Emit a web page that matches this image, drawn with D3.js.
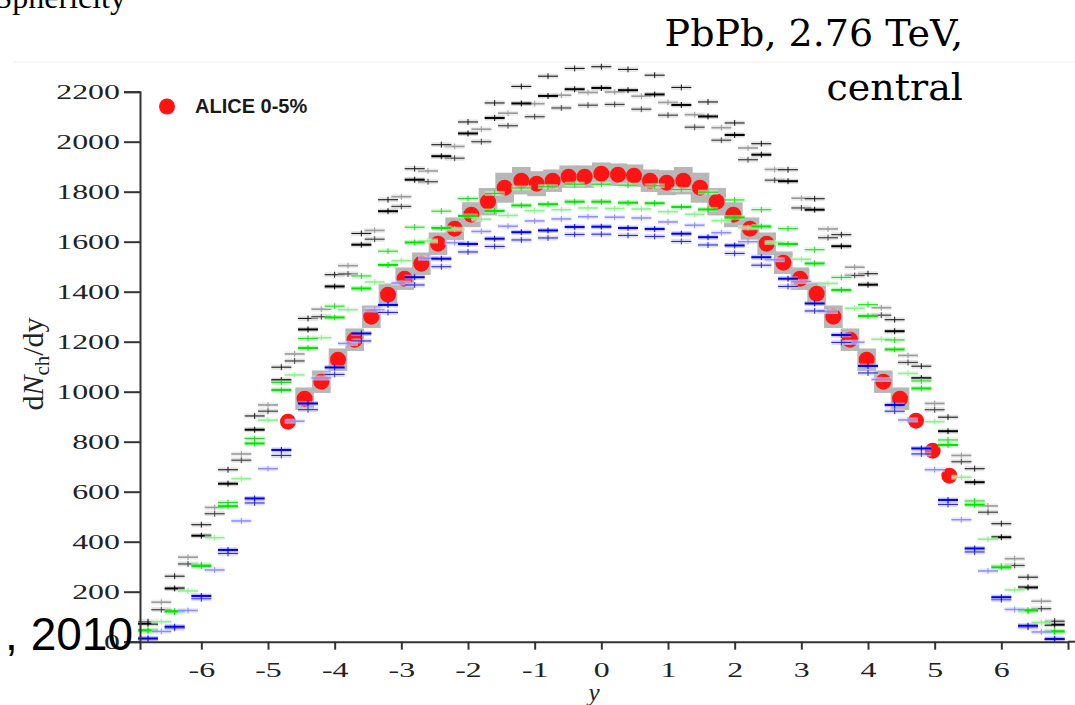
<!DOCTYPE html>
<html>
<head>
<meta charset="utf-8">
<script src="https://cdn.jsdelivr.net/npm/d3@7"></script>
<style>
  body { margin: 0; background: #fff; }
  svg { display: block; }
</style>
</head>
<body>
<div class="chart"></div>
<script>
// ALICE 0-5% points
let aliceY = [-4.7, -4.45, -4.2, -3.95, -3.7, -3.45, -3.2, -2.95, -2.7, -2.45, -2.2, -1.95, -1.7, -1.45, -1.2, -0.97, -0.73, -0.49, -0.25, 0,
    0.25, 0.49, 0.73, 0.98, 1.23, 1.48, 1.73, 1.98, 2.23, 2.48, 2.73, 2.98, 3.23, 3.48, 3.73, 3.98, 4.23, 4.48, 4.72, 4.97, 5.22];
let aliceVal = [880, 972, 1040, 1128, 1208, 1300, 1388, 1452, 1512, 1592, 1652, 1708, 1760, 1816, 1844, 1832, 1844, 1860, 1860, 1872,
    1868, 1864, 1844, 1836, 1844, 1816, 1760, 1708, 1652, 1592, 1516, 1452, 1392, 1300, 1208, 1128, 1040, 972, 884, 764, 664];
let aliceSys = [0, 45, 45, 45, 45, 45, 45, 45, 45, 45, 45, 50, 55, 60, 55, 50, 45, 45, 45, 45,
    45, 45, 45, 50, 55, 60, 55, 50, 45, 45, 45, 45, 45, 45, 45, 45, 45, 45, 0, 0, 0];

// model bins (two staggered grids)
let binsA = [-6.8, -6.4, -6.0, -5.6, -5.2, -4.8, -4.4, -4.0, -3.6, -3.2, -2.8, -2.4, -2.0, -1.6, -1.2, -0.8, -0.4, 0,
    0.4, 0.8, 1.2, 1.6, 2.0, 2.4, 2.8, 3.2, 3.6, 4.0, 4.4, 4.8, 5.2, 5.6, 6.0, 6.4, 6.8];
let binsB = [-6.6, -6.2, -5.8, -5.4, -5.0, -4.6, -4.2, -3.8, -3.4, -3.0, -2.6, -2.2, -1.8, -1.4, -1.0, -0.6, -0.2,
    0.2, 0.6, 1.0, 1.4, 1.8, 2.2, 2.6, 3.0, 3.4, 3.8, 4.2, 4.6, 5.0, 5.4, 5.8, 6.2, 6.6];

let modelK1 = [80, 262, 468, 688, 903, 1098, 1293, 1468, 1633, 1768, 1892, 1988, 2079, 2155, 2221, 2262, 2293, 2300,
    2289, 2266, 2217, 2159, 2075, 1992, 1888, 1772, 1628, 1472, 1288, 1102, 898, 692, 472, 258, 82];
let modelK2 = [72, 213, 424, 632, 848, 1046, 1249, 1421, 1588, 1722, 1848, 1942, 2033, 2095, 2153, 2183, 2210, 2215,
    2206, 2189, 2147, 2101, 2027, 1948, 1842, 1728, 1582, 1428, 1242, 1054, 842, 638, 418, 217, 68];
let modelG1 = [158, 338, 537, 751, 947, 1151, 1330, 1504, 1645, 1780, 1883, 1981, 2050, 2114, 2152, 2186, 2197,
    2199, 2182, 2157, 2108, 2056, 1975, 1889, 1774, 1651, 1498, 1336, 1145, 953, 745, 543, 332, 162];
let modelG2 = [128, 311, 512, 726, 922, 1123, 1300, 1471, 1610, 1741, 1840, 1934, 2000, 2064, 2100, 2135, 2146,
    2149, 2130, 2106, 2058, 2006, 1928, 1846, 1735, 1616, 1465, 1306, 1117, 928, 720, 518, 305, 132];
let modelGr1 = [42, 118, 308, 557, 813, 1037, 1213, 1342, 1463, 1562, 1658, 1722, 1773, 1793, 1815, 1820, 1830, 1830,
    1826, 1824, 1809, 1798, 1767, 1728, 1652, 1568, 1457, 1348, 1207, 1043, 807, 563, 302, 122, 38];
let modelGr2 = [46, 122, 303, 542, 793, 1007, 1175, 1297, 1413, 1507, 1597, 1655, 1703, 1723, 1745, 1750, 1760, 1760,
    1756, 1754, 1739, 1729, 1697, 1661, 1591, 1513, 1407, 1303, 1169, 1013, 787, 548, 297, 126, 42];
let modelLg = [80, 203, 416, 652, 886, 1067, 1216, 1328, 1439, 1524, 1603, 1650, 1690, 1705, 1724, 1728, 1735,
    1733, 1731, 1720, 1710, 1684, 1656, 1597, 1530, 1433, 1334, 1210, 1073, 880, 658, 410, 207, 77];
let modelB1 = [13, 60, 183, 367, 573, 767, 953, 1097, 1233, 1347, 1458, 1532, 1591, 1612, 1638, 1645, 1659, 1660,
    1655, 1651, 1632, 1618, 1585, 1538, 1452, 1353, 1227, 1103, 947, 773, 567, 373, 178, 64, 11];
let modelLb = [41, 125, 287, 483, 692, 882, 1055, 1193, 1327, 1435, 1534, 1596, 1641, 1662, 1683, 1691, 1700,
    1698, 1695, 1679, 1666, 1636, 1600, 1528, 1441, 1321, 1198, 1049, 887, 688, 488, 283, 129, 39];
let modelB2 = [11, 54, 172, 353, 555, 745, 928, 1069, 1203, 1317, 1427, 1500, 1559, 1581, 1607, 1615, 1629, 1630,
    1625, 1621, 1601, 1587, 1553, 1506, 1421, 1323, 1197, 1075, 922, 751, 549, 359, 168, 58, 9];

let xTicks = [-6, -5, -4, -3, -2, -1, 0, 1, 2, 3, 4, 5, 6];
let yTicks = [0, 200, 400, 600, 800, 1000, 1200, 1400, 1600, 1800, 2000, 2200];

let margin = { top: 91.7, right: 7, bottom: 63.3, left: 140 };
let width  = 1075 - margin.left - margin.right;
let height = 705 - margin.top - margin.bottom;

let models = [
    { bins: binsB, values: modelG1,  color: "#9a9a9a", halo: "#e2e2e2", sw: 1.6 },
    { bins: binsA, values: modelK1,  color: "#1a1a1a", halo: "#d4d4d4", sw: 1.1 },
    { bins: binsB, values: modelG2,  color: "#444",    halo: "#cfcfcf", sw: 1.2 },
    { bins: binsA, values: modelK2,  color: "#000",    halo: "#bdbdbd", sw: 2 },
    { bins: binsB, values: modelLg,  color: "#8cf08c", halo: "#d8f8d8", sw: 1.5 },
    { bins: binsA, values: modelGr1, color: "#22d822", halo: "#c4f4c4", sw: 1.1 },
    { bins: binsA, values: modelGr2, color: "#00e400", halo: "#9cef9c", sw: 2 },
    { bins: binsB, values: modelLb,  color: "#8c8cff", halo: "#dcdcff", sw: 1.5 },
    { bins: binsA, values: modelB2,  color: "#2a2ad0", halo: "#c8c8f4", sw: 1.1 },
    { bins: binsA, values: modelB1,  color: "#0000f0", halo: "#a8a8f0", sw: 2 }
];

let serif = "'Liberation Serif', 'Times New Roman', serif";
let stretch = 1.45;   // tick labels of the pasted plot are stretched sideways

let svg = d3.select(".chart")
    .append("svg")
        .attr("width", 1075)
        .attr("height", 705);

// faint edge of the pasted plot
svg.append("line")
    .attr("x1", 14).attr("x2", 1075)
    .attr("y1", 62).attr("y2", 62)
    .attr("stroke", "#f3f3f3")
    .attr("stroke-width", 1.5);

let g = svg.append("g")
    .attr("transform", `translate(${margin.left}, ${margin.top})`);

let xScale = d3.scaleLinear()
    .domain([-6.92, 7])
    .range([0, width]);

let yScale = d3.scaleLinear()
    .domain([0, 2200])
    .range([height, 0]);

// ALICE systematic boxes
g.selectAll("rect.sys")
    .data(aliceY.map((d, i) => ({ y: d, v: aliceVal[i], s: aliceSys[i] })).filter(d => d.s > 0))
    .enter()
    .append("rect")
    .attr("class", "sys")
    .attr("x", d => xScale(d.y - 0.14))
    .attr("width", d => xScale(0.28) - xScale(0))
    .attr("y", d => yScale(d.v + d.s))
    .attr("height", d => yScale(d.v - d.s) - yScale(d.v + d.s))
    .attr("fill", "#b7b7b7");

g.selectAll("circle.alice")
    .data(aliceY.map((d, i) => ({ y: d, v: aliceVal[i] })))
    .enter()
    .append("circle")
    .attr("class", "alice")
    .attr("cx", d => xScale(d.y))
    .attr("cy", d => yScale(d.v))
    .attr("r", 8)
    .attr("fill", "#ff1414");

// model histograms drawn as short dashes
let half = 0.15;
models.forEach(m => {
    let pts = m.bins.map((d, i) => ({ y: d, v: m.values[i] }));
    let mg = g.append("g");
    mg.selectAll("rect")
        .data(pts)
        .enter()
        .append("rect")
        .attr("x", d => xScale(d.y - half))
        .attr("width", () => xScale(half * 2) - xScale(0))
        .attr("y", d => yScale(d.v) - 2.5)
        .attr("height", 5)
        .attr("fill", m.halo)
        .attr("opacity", 0.6);
    mg.selectAll("line.h")
        .data(pts)
        .enter()
        .append("line")
        .attr("class", "h")
        .attr("x1", d => xScale(d.y - half))
        .attr("x2", d => xScale(d.y + half))
        .attr("y1", d => yScale(d.v))
        .attr("y2", d => yScale(d.v))
        .attr("stroke", m.color)
        .attr("stroke-width", m.sw);
    mg.selectAll("line.v")
        .data(pts)
        .enter()
        .append("line")
        .attr("class", "v")
        .attr("x1", d => xScale(d.y))
        .attr("x2", d => xScale(d.y))
        .attr("y1", d => yScale(d.v + 12))
        .attr("y2", d => yScale(Math.max(0, d.v - 12)))
        .attr("stroke", m.color)
        .attr("stroke-width", 1);
});

// axes
let yAxis = d3.axisLeft(yScale)
    .tickValues(yTicks)
    .tickSize(16)
    .tickSizeOuter(16)
    .tickPadding(4)
    .tickFormat(d => String(d));

let xAxis = d3.axisBottom(xScale)
    .tickValues(xTicks)
    .tickSize(8)
    .tickSizeOuter(8)
    .tickPadding(12)
    .tickFormat(d => String(d));

let gy = g.append("g").call(yAxis);
let gx = g.append("g")
    .attr("transform", `translate(0, ${height})`)
    .call(xAxis);

[gx, gy].forEach(a => {
    a.selectAll("path, line").attr("stroke", "#333").attr("stroke-width", 2);
    a.selectAll("text")
        .attr("fill", "#222")
        .style("font-family", serif)
        .style("font-size", "22px");
});
gy.selectAll("text")
    .attr("x", -20 / stretch)
    .attr("transform", `scale(${stretch}, 1)`);
gx.selectAll("text")
    .attr("transform", `scale(${stretch}, 1)`);

g.append("line")
    .attr("x1", width).attr("x2", width + margin.right)
    .attr("y1", height).attr("y2", height)
    .attr("stroke", "#333")
    .attr("stroke-width", 2);

// axis titles
let ylab = svg.append("text")
    .attr("transform", "translate(43, 364) rotate(-90)")
    .attr("text-anchor", "middle")
    .style("font-family", serif)
    .style("font-size", "30px")
    .attr("fill", "#222");
ylab.append("tspan").text("d");
ylab.append("tspan").style("font-style", "italic").text("N");
ylab.append("tspan").attr("dy", 6).style("font-size", "21px").text("ch");
ylab.append("tspan").attr("dy", -6).text("/dy");

svg.append("text")
    .attr("x", 594)
    .attr("y", 701)
    .attr("text-anchor", "middle")
    .style("font-family", serif)
    .style("font-size", "25px")
    .style("font-style", "italic")
    .attr("fill", "#222")
    .text("y");

// legend
svg.append("circle")
    .attr("cx", 167).attr("cy", 106.5)
    .attr("r", 8)
    .attr("fill", "#ff1414");
svg.append("text")
    .attr("x", 195).attr("y", 113)
    .style("font-family", "'Liberation Sans', Arial, sans-serif")
    .style("font-size", "20px")
    .style("font-weight", "bold")
    .attr("fill", "#1a1a1a")
    .text("ALICE 0-5%");

// slide text overlapping the plot
let slideSerif = "'DejaVu Serif', serif";
svg.append("text")
    .attr("x", 963).attr("y", 46)
    .attr("text-anchor", "end")
    .style("font-family", slideSerif)
    .style("font-size", "38px")
    .text("PbPb, 2.76 TeV,");
svg.append("text")
    .attr("x", 963).attr("y", 100)
    .attr("text-anchor", "end")
    .style("font-family", slideSerif)
    .style("font-size", "38px")
    .text("central");
svg.append("text")
    .attr("x", 126).attr("y", 8)
    .attr("text-anchor", "end")
    .style("font-family", serif)
    .style("font-size", "32px")
    .text("Sphericity");
svg.append("text")
    .attr("x", 133).attr("y", 650)
    .attr("text-anchor", "end")
    .style("font-family", "'Liberation Sans', Arial, sans-serif")
    .style("font-size", "46px")
    .text(", 2010");
</script>
</body>
</html>
